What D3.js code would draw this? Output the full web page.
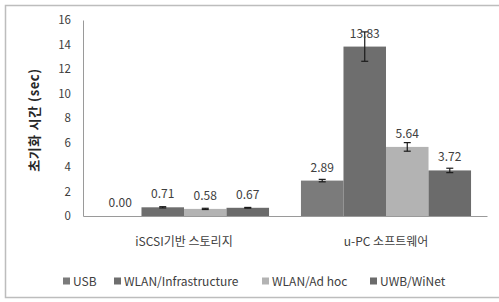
<!DOCTYPE html>
<html>
<head>
<meta charset="utf-8">
<script src="https://cdn.jsdelivr.net/npm/d3@7"></script>
<style>
  body { margin: 0; background: #fff; }
  svg text { font-family: "Noto Sans CJK KR", "Noto Sans", sans-serif; }
</style>
</head>
<body>
<div id="root"></div>
<script>
const categories = ["iSCSI기반 스토리지", "u-PC 소프트웨어"];
const seriesNames = ["USB", "WLAN/Infrastructure", "WLAN/Ad hoc", "UWB/WiNet"];
const seriesColors = ["#7b7b7b", "#6e6e6e", "#b3b3b3", "#6b6b6b"];
const usb = [0.00, 2.89];
const wlanInfra = [0.71, 13.83];
const wlanAdhoc = [0.58, 5.64];
const uwb = [0.67, 3.72];
const usbErr = [0, 0.1];
const wlanInfraErr = [0.05, 1.2];
const wlanAdhocErr = [0.05, 0.35];
const uwbErr = [0.03, 0.18];
const yTicks = [0, 2, 4, 6, 8, 10, 12, 14, 16];

const w = 499, h = 302;
const plotLeft = 83, plotRight = 487, plotTop = 20, plotBottom = 216;

const values = [usb, wlanInfra, wlanAdhoc, uwb];
const errs = [usbErr, wlanInfraErr, wlanAdhocErr, uwbErr];
const data = [];
categories.forEach((c, i) => {
    seriesNames.forEach((s, j) => {
        data.push({cat: c, series: s, value: values[j][i], err: errs[j][i], color: seriesColors[j]});
    });
});

const svg = d3.select("#root").append("svg")
    .attr("width", w)
    .attr("height", h);

// chart border
svg.append("rect")
    .attr("x", 5.5).attr("y", 5.5)
    .attr("width", w - 4).attr("height", 292)
    .attr("fill", "none")
    .attr("stroke", "#bdbdbd")
    .attr("stroke-width", 1.5);

const x0 = d3.scaleBand().domain(categories).range([plotLeft, plotRight]).paddingInner(0.158).paddingOuter(0.079);
const x1 = d3.scaleBand().domain(seriesNames).range([0, x0.bandwidth()]);
const y = d3.scaleLinear().domain([0, 16]).range([plotBottom, plotTop]);

// y-axis
const yAxis = d3.axisLeft(y).tickValues(yTicks).tickSize(0).tickPadding(12);
const gy = svg.append("g")
    .attr("transform", "translate(" + plotLeft + ",0)")
    .call(yAxis);
gy.select(".domain").attr("stroke", "#9a9a9a");
gy.selectAll("text").attr("font-size", 11.5).attr("fill", "#404040");

// y-axis label
svg.append("text")
    .attr("transform", "translate(39," + 120 + ") rotate(-90)")
    .attr("text-anchor", "middle")
    .attr("font-size", 13)
    .attr("letter-spacing", 0.6)
    .attr("font-weight", "bold")
    .attr("fill", "#262626")
    .text("초기화 시간 (sec)");

// bars
svg.selectAll(".bar")
    .data(data)
    .enter()
    .append("rect")
    .attr("class", "bar")
    .attr("x", d => x0(d.cat) + x1(d.series))
    .attr("y", d => y(d.value))
    .attr("width", x1.bandwidth())
    .attr("height", d => y(0) - y(d.value))
    .attr("fill", d => d.color);

// x-axis
const xAxis = d3.axisBottom(x0).tickSize(0).tickPadding(21);
const gx = svg.append("g")
    .attr("transform", "translate(0," + plotBottom + ")")
    .call(xAxis);
gx.select(".domain").attr("stroke", "#9a9a9a");
gx.selectAll("text").attr("font-size", 12).attr("fill", "#404040");

// error bars
const cx = d => x0(d.cat) + x1(d.series) + x1.bandwidth() / 2;
const eb = svg.selectAll(".err")
    .data(data.filter(d => d.err > 0))
    .enter()
    .append("g")
    .attr("class", "err")
    .attr("stroke", "#1a1a1a")
    .attr("stroke-width", 1.2);
eb.append("line")
    .attr("x1", cx).attr("x2", cx)
    .attr("y1", d => y(d.value + d.err)).attr("y2", d => y(d.value - d.err));
eb.append("line")
    .attr("x1", d => cx(d) - 3.5).attr("x2", d => cx(d) + 3.5)
    .attr("y1", d => y(d.value + d.err)).attr("y2", d => y(d.value + d.err));
eb.append("line")
    .attr("x1", d => cx(d) - 3.5).attr("x2", d => cx(d) + 3.5)
    .attr("y1", d => y(d.value - d.err)).attr("y2", d => y(d.value - d.err));

// value labels
svg.selectAll(".vlabel")
    .data(data)
    .enter()
    .append("text")
    .attr("class", "vlabel")
    .attr("x", cx)
    .attr("y", d => y(d.value) - 9)
    .attr("text-anchor", "middle")
    .attr("font-size", 12)
    .attr("fill", "#404040")
    .text(d => d.value.toFixed(2));

// legend
const legendX = [63, 114, 262, 370];
const legend = svg.selectAll(".legend")
    .data(seriesNames)
    .enter()
    .append("g")
    .attr("class", "legend")
    .attr("transform", (d, i) => "translate(" + legendX[i] + ",281)");
legend.append("rect")
    .attr("x", 0).attr("y", -3.5)
    .attr("width", 7).attr("height", 7)
    .attr("fill", (d, i) => seriesColors[i]);
legend.append("text")
    .attr("x", 10).attr("y", 4.5)
    .attr("font-size", 12)
    .attr("fill", "#404040")
    .text(d => d);
</script>
</body>
</html>
